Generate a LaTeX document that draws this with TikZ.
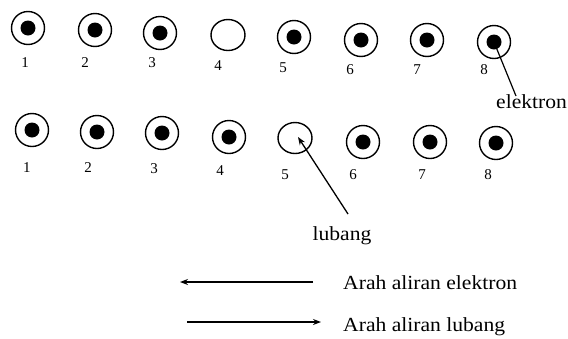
\documentclass[tikz,border=0pt]{standalone}
\usepackage{fontspec}
\setmainfont{Liberation Serif}
\usetikzlibrary{arrows.meta,shapes.geometric}
\begin{document}
\begin{tikzpicture}[x=1pt,y=-1pt,
  atom/.style={circle,draw,line width=1.4pt,minimum size=33pt,inner sep=0pt,
    path picture={\fill (path picture bounding box.center) circle (7.5pt);}},
  hole/.style={ellipse,draw,line width=1.4pt,minimum width=34pt,minimum height=31pt,inner sep=0pt},
  num/.style={font=\fontsize{15}{15}\selectfont,inner sep=0pt},
  txt/.style={font=\fontsize{20}{20}\selectfont,inner sep=0pt,xscale=1.08},
  arr/.style={line width=1.3pt,-{Stealth[length=8pt,width=6pt]}}]
\useasboundingbox (0,0) rectangle (568,338);
% top row
\node[atom] (t1) at (28,28) {};
\node[atom] (t2) at (95,30) {};
\node[atom] (t3) at (160,33) {};
\node[hole] (t4) at (228,35) {};
\node[atom] (t5) at (294,37) {};
\node[atom] (t6) at (361,40) {};
\node[atom] (t7) at (427,40) {};
\node[atom] (t8) at (494,42) {};
\node[num] (tn1) at (25,63) {1};
\node[num] (tn2) at (85,63) {2};
\node[num] (tn3) at (152,63) {3};
\node[num] (tn4) at (218,66) {4};
\node[num] (tn5) at (283,68) {5};
\node[num] (tn6) at (350,70) {6};
\node[num] (tn7) at (417,70) {7};
\node[num] (tn8) at (484,70) {8};
\node[txt,anchor=north west] (elab) at (496,94) {elektron};
\coordinate (etip) at (516,96);
\draw[line width=1.2pt] (t8.center) -- (etip);
% bottom row
\node[atom] (b1) at (32,130) {};
\node[atom] (b2) at (97,132) {};
\node[atom] (b3) at (162,133) {};
\node[atom] (b4) at (229,137) {};
\node[hole] (b5) at (295,138) {};
\node[atom] (b6) at (363,142) {};
\node[atom] (b7) at (430,142) {};
\node[atom] (b8) at (496,143) {};
\node[num] (bn1) at (27,168) {1};
\node[num] (bn2) at (88,168) {2};
\node[num] (bn3) at (154,169) {3};
\node[num] (bn4) at (220,171) {4};
\node[num] (bn5) at (285,175) {5};
\node[num] (bn6) at (353,175) {6};
\node[num] (bn7) at (422,175) {7};
\node[num] (bn8) at (488,175) {8};
\node[txt] (llab) at (342,236) {lubang};
\coordinate (ltail) at (348,214);
\draw[arr] (ltail) -- ([xshift=3pt,yshift=1pt]b5.center);
% legend
\coordinate (a1s) at (313,282);
\coordinate (a1e) at (180,282);
\coordinate (a2s) at (187,322);
\coordinate (a2e) at (321,322);
\draw[arr] (a1s) -- (a1e);
\draw[arr] (a2s) -- (a2e);
\node[txt,anchor=west] (leg1) at (343,283) {Arah aliran elektron};
\node[txt,anchor=west] (leg2) at (343,327) {Arah aliran lubang};
\end{tikzpicture}
\end{document}
